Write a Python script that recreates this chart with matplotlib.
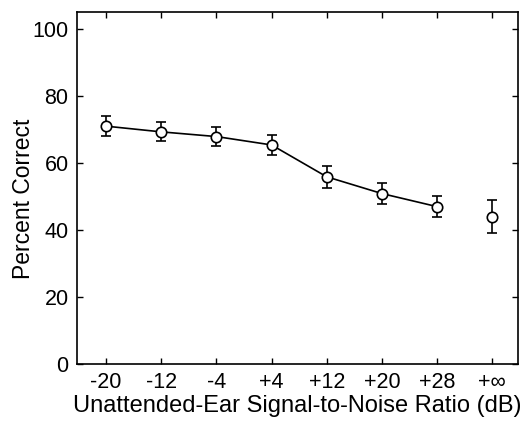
import matplotlib
matplotlib.use("Agg")
import matplotlib.pyplot as plt

plt.rcParams['font.family'] = ['Liberation Sans', 'DejaVu Sans']

# data
snr_labels = ["-20", "-12", "-4", "+4", "+12", "+20", "+28", "+\u221e"]
pct_correct = [71.0, 69.3, 67.9, 65.4, 55.9, 50.9, 47.0, 44.0]
pct_err = [2.9, 2.8, 2.9, 3.1, 3.2, 3.2, 3.1, 4.9]

x = list(range(len(snr_labels)))

fig = plt.figure(figsize=(5.27, 4.21), dpi=100)
ax = fig.add_axes([0.146, 0.135, 0.837, 0.836])

# connected finite SNR points
ax.plot(x[:-1], pct_correct[:-1], color='black', lw=1.2, zorder=2)
ax.errorbar(x, pct_correct, yerr=pct_err, fmt='o', color='black',
            mfc='white', mec='black', ms=7.5, mew=1.2,
            elinewidth=1.2, capsize=3.5, capthick=1.2, zorder=3)

ax.set_xlim(-0.53, 7.47)
ax.set_ylim(0, 105)
ax.set_xticks(x)
ax.set_xticklabels(snr_labels)
ax.set_yticks([0, 20, 40, 60, 80, 100])

ax.tick_params(axis='both', direction='in', top=True, right=True, length=4,
               width=1, labelsize=15.5)
ax.tick_params(axis='x', pad=6)
ax.tick_params(axis='y', pad=6)
for s in ax.spines.values():
    s.set_linewidth(1.2)

ax.set_xlabel("Unattended-Ear Signal-to-Noise Ratio (dB)", fontsize=17, labelpad=1)
ax.set_ylabel("Percent Correct", fontsize=16.5)
ax.yaxis.set_label_coords(-0.096, 0.47)

fig.savefig("out.png", dpi=100)
